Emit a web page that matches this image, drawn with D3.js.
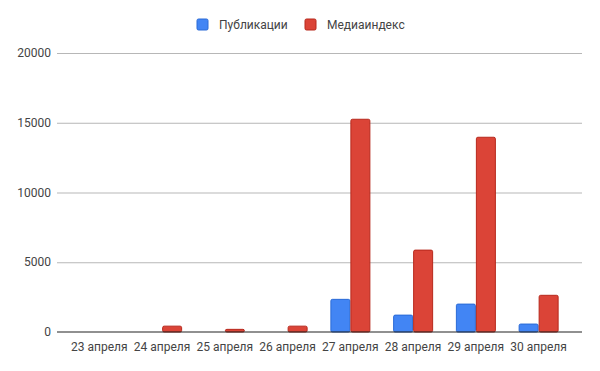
<!doctype html>
<html>
<head>
<meta charset="utf-8">
<style>
  body { margin: 0; background: #fff; }
  text { font-family: Roboto, Arial, sans-serif; }
</style>
<script src="https://d3js.org/d3.v7.min.js"></script>
</head>
<body>
<svg width="600" height="371"></svg>
<script>
var days = ["23 апреля", "24 апреля", "25 апреля", "26 апреля", "27 апреля", "28 апреля", "29 апреля", "30 апреля"];
var publications = [0, 0, 0, 0, 2340, 1210, 2000, 570];
var mediaIndex = [0, 420, 190, 420, 15250, 5870, 13960, 2630];
var yTicks = [0, 5000, 10000, 15000, 20000];
var seriesNames = ["Публикации", "Медиаиндекс"];
var colors = ["#4285f4", "#db4437"];
var strokes = ["#2a6ad6", "#b7281c"];

var svg = d3.select("svg");

var x = d3.scaleBand().domain(days).range([68, 570]);
var y = d3.scaleLinear().domain([0, 20000]).range([332, 53]);

// gridlines
svg.append("g").selectAll("line")
  .data(yTicks.slice(1))
  .enter().append("line")
  .attr("x1", 57).attr("x2", 582)
  .attr("y1", function(d) { return y(d) + 0.5; })
  .attr("y2", function(d) { return y(d) + 0.5; })
  .attr("stroke", "#b7b7b7").attr("stroke-width", 1);

// y labels
svg.append("g").selectAll("text")
  .data(yTicks)
  .enter().append("text")
  .attr("x", 51)
  .attr("y", function(d) { return y(d) + 4; })
  .attr("text-anchor", "end")
  .attr("font-size", 12)
  .attr("fill", "#444")
  .text(function(d) { return d; });

// bars, two per day
var barW = 19;
var series = [publications, mediaIndex];
series.forEach(function(vals, si) {
  svg.append("g").selectAll("rect")
    .data(vals.map(function(v, i) { return { day: days[i], value: v }; })
      .filter(function(d) { return d.value > 0; }))
    .enter().append("rect")
    .attr("x", function(d) {
      var cx = x(d.day) + x.bandwidth() / 2;
      return si === 0 ? cx - barW - 0.5 : cx + 0.5;
    })
    .attr("y", function(d) { return y(d.value); })
    .attr("width", barW)
    .attr("height", function(d) { return y(0) - y(d.value); })
    .attr("rx", 1.5)
    .attr("fill", colors[si])
    .attr("stroke", strokes[si])
    .attr("stroke-width", 1);
});

// baseline
svg.append("line")
  .attr("x1", 57).attr("x2", 582)
  .attr("y1", 332).attr("y2", 332)
  .attr("stroke", "#222").attr("stroke-width", 1.2);

// x labels
svg.append("g").selectAll("text")
  .data(days)
  .enter().append("text")
  .attr("x", function(d) { return x(d) + x.bandwidth() / 2; })
  .attr("y", 351)
  .attr("text-anchor", "middle")
  .attr("font-size", 12)
  .attr("fill", "#444")
  .text(function(d) { return d; });

// legend
var legend = svg.append("g");
var lx = [197, 305];
seriesNames.forEach(function(name, i) {
  legend.append("rect")
    .attr("x", lx[i]).attr("y", 19)
    .attr("width", 11).attr("height", 11)
    .attr("rx", 1.5)
    .attr("fill", colors[i])
    .attr("stroke", strokes[i]);
  legend.append("text")
    .attr("x", lx[i] + 22).attr("y", 29)
    .attr("font-size", 12)
    .attr("fill", "#444")
    .text(name);
});
</script>
</body>
</html>
